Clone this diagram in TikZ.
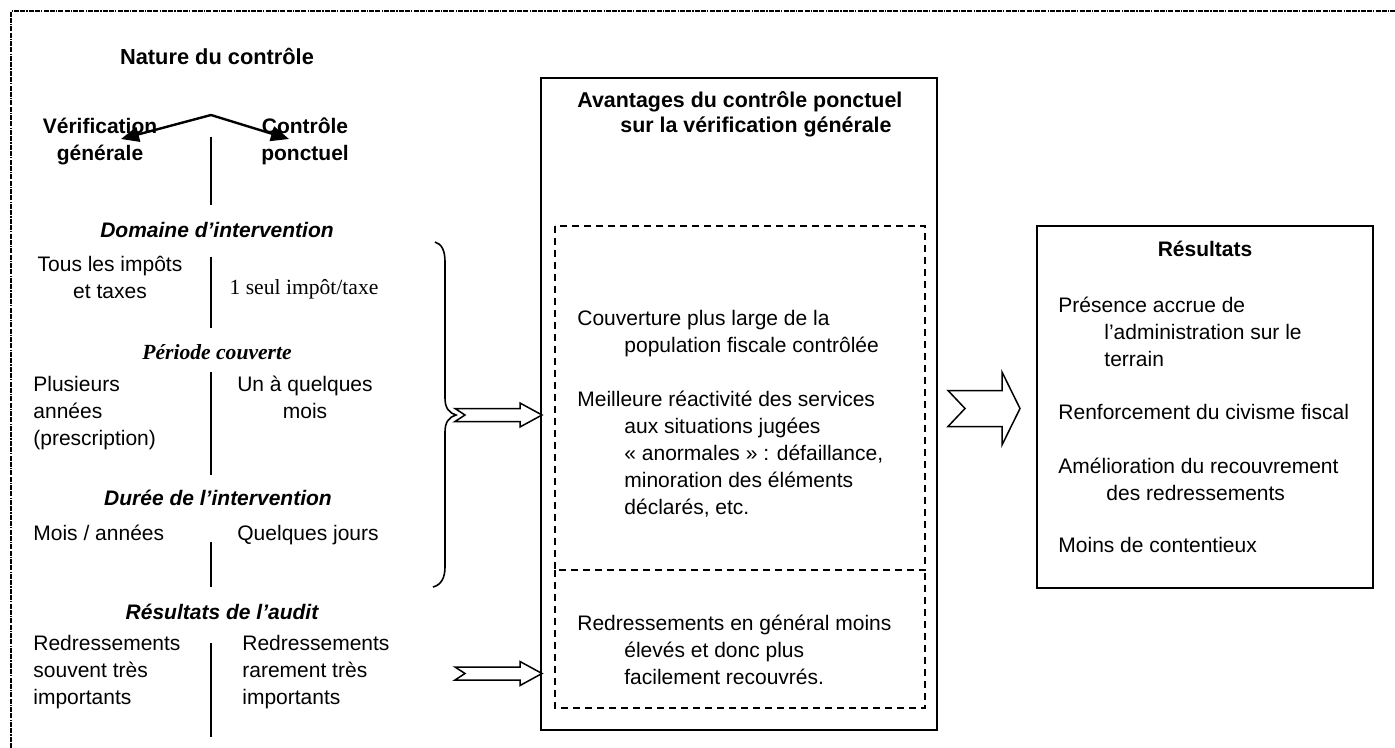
\documentclass[tikz,border=0pt]{standalone}
\usepackage{fontspec}
\setmainfont{Liberation Sans}
\newfontfamily\tnr{Liberation Serif}
\usetikzlibrary{arrows.meta}
\tikzset{
  txt/.style={inner sep=0pt, anchor=north west, align=left,
    font=\fontsize{10.5}{13.5}\selectfont, execute at begin node={\rule{0pt}{10pt}}},
  txtc/.style={txt, anchor=north, align=center},
  bf/.style={font=\fontsize{10.5}{13.5}\selectfont\bfseries},
  bfit/.style={font=\fontsize{10.5}{13.5}\selectfont\bfseries\itshape},
  solidbox/.style={draw, line width=0.9pt},
  dashbox/.style={draw, line width=0.65pt, dash pattern=on 3.5pt off 2.5pt},
  hollow/.style={draw, line width=0.75pt, fill=white, line join=miter},
  sepline/.style={line width=0.8pt},
  natarrow/.style={line width=1.2pt, -{Triangle[length=9pt,width=7.5pt]}},
  pics/harrow/.style n args={5}{code={
    \draw[hollow] (0,-#4) -- (#1-#2,-#4) -- (#1-#2,-#3) -- (#1,0) -- (#1-#2,#3)
      -- (#1-#2,#4) -- (0,#4) -- (#5,0) -- cycle;}}
}
\begin{document}
\begin{tikzpicture}[x=0.5pt,y=-0.5pt]
\useasboundingbox (0,0) rectangle (1395,748);
% outer border
\draw[line width=0.6pt, dash pattern=on 2.5pt off 0.6pt on 2.5pt off 0.6pt on 0.6pt off 0.6pt]
  (11,748) -- (11,11) -- (1395,11);

% left column
\node[txtc,font=\fontsize{10.9}{13.5}\selectfont\bfseries] (nature) at (217,44) {Nature du contrôle};
\node[txtc,bf] (verif) at (100,117.5) {Vérification\\générale};
\node[txtc,bf] (ctrl) at (305,117.5) {Contrôle\\ponctuel};
\coordinate (apex) at (211,115);
\coordinate (lt) at (121,139);
\coordinate (rt) at (289,139);
\draw[natarrow] (apex) -- (lt);
\draw[natarrow] (apex) -- (rt);
\draw[sepline] (211,137) -- (211,205);

\node[txtc,bfit] (domaine) at (217,217) {Domaine d’intervention};
\node[txtc] (tous) at (110,255.5) {Tous les impôts\\et taxes};
\node[txtc,font=\fontsize{10.8}{13.5}\selectfont\tnr] (seul) at (304,274) {1 seul impôt/taxe};
\draw[sepline] (211,257) -- (211,328);

\node[txtc,font=\fontsize{10.8}{13.5}\selectfont\tnr\bfseries\itshape] (periode) at (217,339) {Période couverte};
\node[txt] (plusieurs) at (33,375.5) {Plusieurs\\années\\(prescription)};
\node[txtc] (unaq) at (305,375.5) {Un à quelques\\mois};
\draw[sepline] (211,372) -- (211,475);

\node[txtc,bfit] (duree) at (218,485) {Durée de l’intervention};
\node[txt] (moisan) at (33,520) {Mois / années};
\node[txt] (quelques) at (237,520) {Quelques jours};
\draw[sepline] (211,542) -- (211,587);

\node[txtc,bfit] (resaudit) at (222,599) {Résultats de l’audit};
\node[txt] (redsouv) at (33,634.5) {Redressements\\souvent très\\importants};
\node[txt] (redrare) at (242,634.5) {Redressements\\rarement très\\importants};
\draw[sepline] (211,643) -- (211,737);

% brace
\draw[line width=0.8pt] (435,242) .. controls (442,244) and (445,251) .. (445,262)
  -- (445,398) .. controls (445,408) and (449,413) .. (456,415)
  .. controls (449,417) and (445,422) .. (445,432)
  -- (445,567) .. controls (445,578) and (441,585) .. (433,587);

% middle box
\draw[solidbox] (541,78) rectangle (937,730);
\node[txt,font=\fontsize{10.7}{13.5}\selectfont\bfseries] (avt1) at (577,87) {Avantages du contrôle ponctuel};
\node[txt,font=\fontsize{10.7}{13.5}\selectfont\bfseries] (avt2) at (620,112) {sur la vérification générale};
\draw[dashbox] (555,226) rectangle (925,570);
\draw[dashbox] (555,570) -- (555,708) -- (925,708) -- (925,570);
\node[txt] (couv) at (577,309.5) {Couverture plus large de la\\\hspace*{23.5pt}population fiscale contrôlée};
\node[txt] (meill) at (577,390.5) {Meilleure réactivité des services\\\hspace*{23.5pt}aux situations jugées\\\hspace*{23.5pt}« anormales » : défaillance,\\\hspace*{23.5pt}minoration des éléments\\\hspace*{23.5pt}déclarés, etc.};
\node[txt] (redgen) at (577,614.5) {Redressements en général moins\\\hspace*{23.5pt}élevés et donc plus\\\hspace*{23.5pt}facilement recouvrés.};

% hollow arrows
\pic at (455,415) {harrow={87}{22}{12}{6.5}{10}};
\pic at (455,673.5) {harrow={87}{22}{12}{6.5}{10}};
\pic at (948,408.5) {harrow={72}{18}{36.5}{18}{17}};

% results box
\draw[solidbox] (1037,226) rectangle (1373,588);
\node[txtc,bf] (resultats) at (1205,236) {Résultats};
\node[txt] (presence) at (1058,296.5) {Présence accrue de\\\hspace*{23pt}l’administration sur le\\\hspace*{23pt}terrain};
\node[txt] (renf) at (1058,399) {Renforcement du civisme fiscal};
\node[txt] (amel) at (1058,457.5) {Amélioration du recouvrement\\\hspace*{24pt}des redressements};
\node[txt] (moins) at (1058,532) {Moins de contentieux};
\end{tikzpicture}
\end{document}
